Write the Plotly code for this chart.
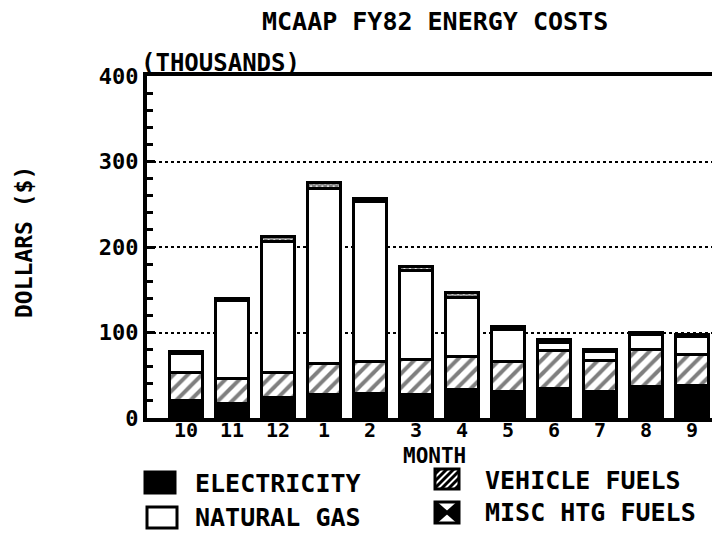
import plotly.graph_objects as go

months = ["10", "11", "12", "1", "2", "3", "4", "5", "6", "7", "8", "9"]
electricity = [21, 17, 24, 27, 29, 27, 33, 31, 35, 31, 37, 38]
vehicle_fuels = [32, 29, 29, 37, 37, 41, 39, 35, 44, 36, 43, 36]
natural_gas = [23, 92, 153, 204, 187, 104, 69, 38, 9, 11, 18, 21]
misc_htg_fuels = [2, 2, 6, 7, 4, 5, 6, 3, 4, 2, 2, 3]
y_ticks = [0, 100, 200, 300, 400]

OFF = 8  # default page body margin
W, H = 720 - OFF, 534 - OFF
L, R, T, B = 147 - OFF, 0, 76 - OFF, 534 - 418
PW, PH = W - L - R, H - T - B
FONT = "DejaVu Sans Mono"


def px(x):
    return (x - OFF - L) / PW


def py(y):
    return (H + OFF - B - y) / PH


line = dict(color="black", width=3)
fig = go.Figure()
fig.add_bar(x=months, y=electricity, name="ELECTRICITY", width=0.72,
            marker=dict(color="black", line=line))
fig.add_bar(x=months, y=vehicle_fuels, name="VEHICLE FUELS", width=0.72,
            marker=dict(color="white", line=line,
                        pattern=dict(shape="/", fgcolor="black", bgcolor="white",
                                     size=10, solidity=0.4)))
fig.add_bar(x=months, y=natural_gas, name="NATURAL GAS", width=0.72,
            marker=dict(color="white", line=line))
fig.add_bar(x=months, y=misc_htg_fuels, name="MISC HTG FUELS", width=0.72,
            marker=dict(color="white", line=line,
                        pattern=dict(shape="x", fgcolor="black", bgcolor="white",
                                     size=4, solidity=0.8)))

font = dict(family=FONT, color="black", weight="bold")

shapes = []
annotations = []


def rect(x0, y0, x1, y1, fill="white", width=3):
    shapes.append(dict(type="rect", xref="paper", yref="paper",
                       x0=px(x0), x1=px(x1), y0=py(y1), y1=py(y0),
                       fillcolor=fill, line=dict(color="black", width=width)))


def seg(x0, y0, x1, y1, width=3):
    shapes.append(dict(type="line", xref="paper", yref="paper",
                       x0=px(x0), x1=px(x1), y0=py(y0), y1=py(y1),
                       line=dict(color="black", width=width)))


def text(s, x, y, size=25, xanchor="left", angle=0):
    annotations.append(dict(text=s, x=px(x), y=py(y), xref="paper", yref="paper",
                            xanchor=xanchor, yanchor="middle", showarrow=False,
                            textangle=angle, font=dict(size=size, **font)))


# legend swatches
rect(145, 472, 175, 493, fill="black")
rect(147, 507, 177, 528, fill="white")
# hatched swatch
hx0, hy0, hx1, hy1 = 435, 469, 459, 489
rect(hx0, hy0, hx1, hy1, fill="white")
for c in range(hx0 + hy0 + 5, hx1 + hy1, 7):
    xa = max(hx0, c - hy1)
    xb = min(hx1, c - hy0)
    if xb > xa:
        seg(xa, c - xa, xb, c - xb, width=3)
# misc swatch (box with X, filled side triangles)
mx0, my0, mx1, my1 = 435, 502, 459, 523
mxc, myc = (mx0 + mx1) / 2, (my0 + my1) / 2
for pts in ([(mx0, my0), (mxc, myc), (mx0, my1)], [(mx1, my0), (mxc, myc), (mx1, my1)]):
    path = "M " + " L ".join(f"{px(a)},{py(b)}" for a, b in pts) + " Z"
    shapes.append(dict(type="path", xref="paper", yref="paper", path=path,
                       fillcolor="black", line=dict(color="black", width=1)))
rect(mx0, my0, mx1, my1, fill="rgba(0,0,0,0)")
seg(mx0, my0, mx1, my1)
seg(mx0, my1, mx1, my0)

text("ELECTRICITY", 193, 483)
text("NATURAL GAS", 193, 517)
text("VEHICLE FUELS", 483, 480)
text("MISC HTG FUELS", 483, 512)

text("MCAAP FY82 ENERGY COSTS", 435, 22, size=25, xanchor="center")
text("(THOUSANDS)", 139, 63, size=24)
text("MONTH", 434, 456, size=21, xanchor="center")
text("DOLLARS ($)", 24, 242, size=23, xanchor="center", angle=-90)

fig.update_layout(
    width=W, height=H,
    margin=dict(l=L, r=R, t=T, b=B, pad=0),
    paper_bgcolor="white", plot_bgcolor="white",
    barmode="stack", showlegend=False,
    font=dict(size=22, **font),
    shapes=shapes, annotations=annotations,
    xaxis=dict(type="category", range=[-0.848, 11.61], showline=True,
               linecolor="black", linewidth=4, mirror=True, ticks="",
               showgrid=False, ticklabelstandoff=-9,
               tickfont=dict(size=20, **font)),
    yaxis=dict(range=[0, 400], tickvals=y_ticks, showline=True,
               linecolor="black", linewidth=4, ticks="inside", ticklen=8,
               tickwidth=3, tickcolor="black",
               minor=dict(dtick=20, ticks="inside", ticklen=6, tickwidth=3,
                          tickcolor="black", showgrid=False),
               showgrid=True, gridcolor="black", gridwidth=2, griddash="dot",
               zeroline=False, tickfont=dict(size=22, **font)),
)

fig.write_html("out.html")
